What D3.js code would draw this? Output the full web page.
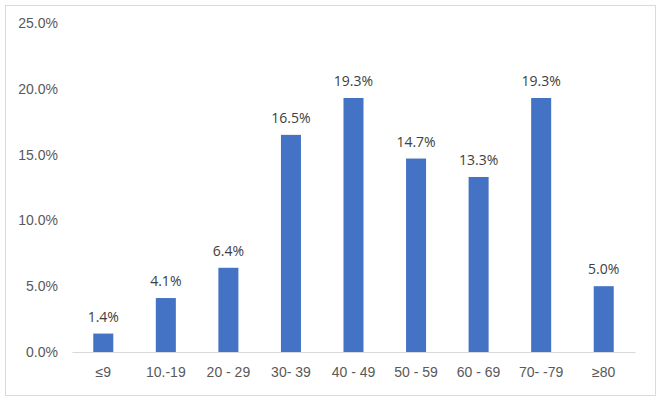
<!DOCTYPE html>
<html><head><meta charset="utf-8">
<script src="https://cdn.jsdelivr.net/npm/d3@7"></script>
<style>body{margin:0;background:#fff}svg{display:block;font-family:"Open Sans",sans-serif}</style>
</head><body><svg id="c" width="661" height="402"></svg>
<script>
const categories = ["≤9","10.-19","20 - 29","30- 39","40 - 49","50 - 59","60 - 69","70- -79","≥80"];
const values = [1.4,4.1,6.4,16.5,19.3,14.7,13.3,19.3,5.0];
const yTicks = [0,5,10,15,20,25];

const svg = d3.select("#c");
svg.append("rect").attr("x",5.5).attr("y",5.5).attr("width",650).attr("height",390)
  .attr("fill","#fff").attr("stroke","#d9d9d9");

const x = d3.scaleBand().domain(categories).range([72,635]).paddingInner(0.68).paddingOuter(0.34);
const y = d3.scaleLinear().domain([0,25]).range([352,23]);
const fs = "14px";

const yAxis = svg.append("g").attr("transform","translate(72,0)")
  .call(d3.axisLeft(y).tickValues(yTicks).tickFormat(d=>d.toFixed(1)+"%").tickSize(0).tickPadding(14));
yAxis.select(".domain").remove();
yAxis.selectAll("text").attr("fill","#595959").style("font-size",fs);

svg.selectAll(".bar").data(values).enter().append("rect")
  .attr("x",(d,i)=>x(categories[i])).attr("width",x.bandwidth())
  .attr("y",d=>y(d)).attr("height",d=>y(0)-y(d)).attr("fill","#4472C4");

const xAxis = svg.append("g").attr("transform","translate(0,352)")
  .call(d3.axisBottom(x).tickSize(0).tickPadding(15));
xAxis.select(".domain").attr("stroke","#d9d9d9").attr("stroke-width",1);
xAxis.selectAll("text").attr("fill","#595959").style("font-size",fs);

svg.selectAll(".lbl").data(values).enter().append("text")
  .attr("x",(d,i)=>x(categories[i])+x.bandwidth()/2).attr("y",d=>y(d)-12)
  .attr("text-anchor","middle").attr("fill","#404040").style("font-size",fs)
  .text(d=>d.toFixed(1)+"%");
</script></body></html>
